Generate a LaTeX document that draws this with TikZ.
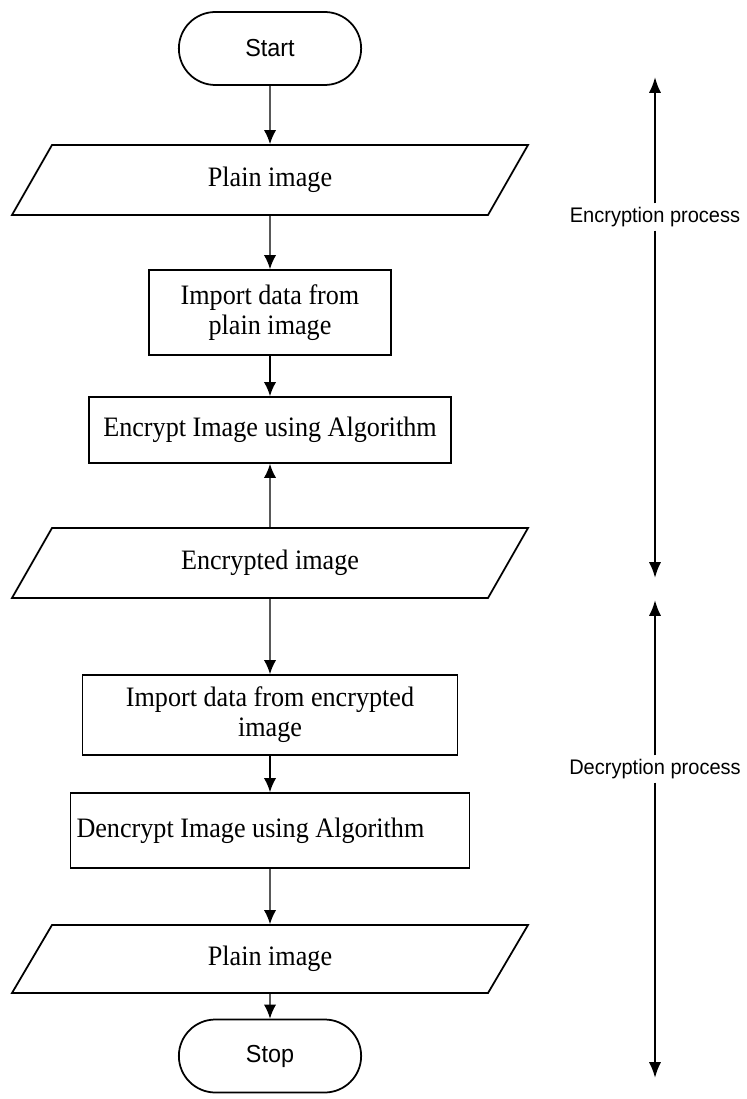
\documentclass[tikz,border=0pt]{standalone}
\usepackage{fontspec}
\setmainfont{Liberation Serif}
\newfontfamily\boxfont[FakeStretch=0.93]{Liberation Serif}
\newfontfamily\labelfont[FakeStretch=0.95]{Liberation Sans}
\usepackage{tikz}
\usetikzlibrary{
    arrows.meta,
    shapes.geometric,
    shapes.misc
}
\tikzset{
    terminal/.style={draw, line width=1pt, rounded rectangle, minimum width=3.88cm, minimum height=1.46cm,
        font=\labelfont\fontsize{14}{16}\selectfont},
    process/.style={draw, line width=1pt, rectangle, align=center,
        font=\boxfont\fontsize{16}{17}\selectfont},
    datain/.style={draw, line width=1pt, trapezium, trapezium left angle=43, trapezium right angle=137,
        trapezium stretches body, minimum width=10.32cm, minimum height=1.4cm,
        font=\boxfont\fontsize{16}{17}\selectfont},
    flow/.style={-{Latex[length=8pt,width=7pt]}, line width=0.8pt},
    side/.style={font=\labelfont\fontsize{12}{14}\selectfont, inner sep=2pt},
    sidearrow/.style={-{Latex[length=9pt,width=7pt]}, line width=1.3pt}
}

\begin{document}
\begin{tikzpicture}
        \useasboundingbox (0,0) rectangle (14.92,-21.98);

        % flow chart
        \node[terminal] (start) at (5.4,-0.97) {Start};
        \node[datain] (plainin) at (5.4,-3.6) {Plain image};
        \node[process, minimum width=4.84cm, minimum height=1.7cm] (importplain) at (5.4,-6.25) {Import data from\\plain image};
        \node[process, minimum width=7.24cm, minimum height=1.32cm] (encrypt) at (5.4,-8.6) {Encrypt Image using Algorithm};
        \node[datain] (encimg) at (5.4,-11.26) {Encrypted image};
        \node[process, minimum width=7.5cm, minimum height=1.6cm] (importenc) at (5.4,-14.3) {Import data from encrypted\\image};
        \node[process, minimum height=1.5cm, text width=7.74cm, inner xsep=0.12cm, align=flush left] (decrypt) at (5.4,-16.61) {Dencrypt Image using Algorithm};
        \node[datain, minimum height=1.36cm] (plainout) at (5.4,-19.18) {Plain image};
        \node[terminal] (stop) at (5.4,-21.12) {Stop};

        \draw[flow] (start) -- (plainin);
        \draw[flow] (plainin) -- (importplain);
        \draw[flow] (importplain) -- (encrypt);
        \draw[flow] (encimg) -- (encrypt);
        \draw[flow] (encimg) -- (importenc);
        \draw[flow] (importenc) -- (decrypt);
        \draw[flow] (decrypt) -- (plainout);
        \draw[flow] (plainout) -- (stop);

        % process ranges
        \coordinate (enctop) at (13.1,-1.54);
        \coordinate (encbot) at (13.1,-11.56);
        \node[side] (enclabel) at (13.1,-4.34) {Encryption process};
        \draw[sidearrow] (enclabel) -- (enctop);
        \draw[sidearrow] (enclabel) -- (encbot);

        \coordinate (dectop) at (13.1,-12.0);
        \coordinate (decbot) at (13.1,-21.56);
        \node[side] (declabel) at (13.1,-15.38) {Decryption process};
        \draw[sidearrow] (declabel) -- (dectop);
        \draw[sidearrow] (declabel) -- (decbot);
    \end{tikzpicture}
\end{document}
